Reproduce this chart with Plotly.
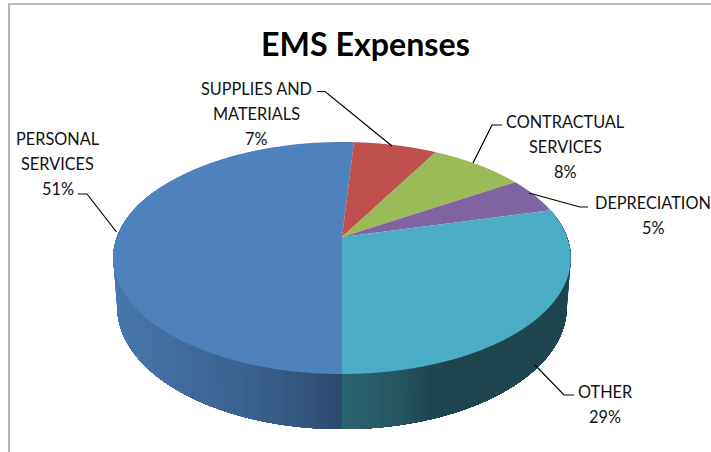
import numpy as np
import plotly.graph_objects as go

# ---- data ----
categories = ["PERSONAL<br>SERVICES", "SUPPLIES AND<br>MATERIALS", "CONTRACTUAL<br>SERVICES", "DEPRECIATION", "OTHER"]
values = [51, 7, 8, 5, 29]
colors = ["#4f81bd", "#c0504d", "#9bbb59", "#8064a2", "#4bacc6"]
title = "EMS Expenses"

# ---- projection of the tilted pie onto the page ----
K = 0.181
TOP = dict(cx=342, cy=237, a=225, b=112.2)
BOT = dict(cx=342, cy=285, a=221, b=118)


def project(theta_deg, r=1.0, plane=TOP):
    t = np.radians(theta_deg)
    u, v = r * np.sin(t), r * np.cos(t)
    den = 1 + K * v
    return plane["cx"] + plane["a"] * u / den, plane["cy"] - plane["b"] * v / den


total = sum(values)
sweeps = [v / total * 360 for v in values]
starts, ends = [], []
a = 180.0  # the first slice starts at the front of the pie and runs clockwise
for s in sweeps:
    starts.append(a)
    a += s
    ends.append(a)

fig = go.Figure()


def poly(xs, ys, color):
    fig.add_trace(go.Scatter(x=xs, y=ys, mode="none", fill="toself", fillcolor=color,
                             hoverinfo="skip", showlegend=False))


def mix(stops, x):
    xp = [s[0] for s in stops]
    return "rgb(%d,%d,%d)" % tuple(np.interp(x, xp, [s[1][i] for s in stops]) for i in range(3))


# gradient stops of the side wall, by page x
blue_side = [(112, (0x4a, 0x78, 0xae)), (180, (0x41, 0x6b, 0x9d)), (250, (0x3a, 0x60, 0x8d)),
             (300, (0x34, 0x55, 0x7f)), (343, (0x2c, 0x49, 0x6e))]
teal_side = [(343, (0x2b, 0x66, 0x72)), (400, (0x27, 0x56, 0x62)), (435, (0x1f, 0x46, 0x50)),
             (570, (0x1f, 0x46, 0x50))]

# side walls for the slices facing the viewer; each strip is painted over the previous one
blue_lo, blue_hi = starts[0], min(ends[0], 300)
edges = np.linspace(blue_hi, blue_lo, 90)
for t0 in edges[:-1]:
    arc = np.linspace(t0, blue_lo, 80)
    xt, yt = project(arc, plane=TOP)
    xb, yb = project(arc, plane=BOT)
    xs = np.concatenate([xt, xb[::-1], xt[:1]])
    ys = np.concatenate([yt, yb[::-1], yt[:1]])
    poly(xs, ys, mix(blue_side, float(xt[0])))

teal_lo, teal_hi = starts[4] - 360, ends[4] - 360
edges = np.linspace(teal_lo, teal_hi, 90)
for t0 in edges[:-1]:
    arc = np.linspace(t0, teal_hi, 80)
    xt, yt = project(arc, plane=TOP)
    xb, yb = project(arc, plane=BOT)
    xs = np.concatenate([xt, xb[::-1], xt[:1]])
    ys = np.concatenate([yt, yb[::-1], yt[:1]])
    poly(xs, ys, mix(teal_side, float(xt[0])))

# top face
for s, e, c in zip(starts, ends, colors):
    arc = np.linspace(s, e, 200)
    xr, yr = project(arc)
    cx, cy = project(0.0, r=0.0)
    poly(np.concatenate([[cx], xr, [cx]]), np.concatenate([[cy], yr, [cy]]), c)

# leader lines
leaders = [
    ([78, 87, 116.5], [194, 194, 232]),
    ([317, 325, 392], [91.5, 91.5, 146]),
    ([502, 492, 473], [125, 125, 163]),
    ([588, 580, 529], [207, 207, 193]),
    ([574, 564, 535], [395, 395, 365]),
]
for lx, ly in leaders:
    fig.add_trace(go.Scatter(x=lx, y=ly, mode="lines", line=dict(color="#000000", width=1.2),
                             hoverinfo="skip", showlegend=False))

# frame (only top and left are visible)
fig.add_trace(go.Scatter(x=[9, 9, 711], y=[452, 4, 4], mode="lines", line=dict(color="#a3a3a3", width=1.6),
                         hoverinfo="skip", showlegend=False))

# labels: one annotation per line so the line spacing follows the reference
label_pos = [(57.5, 138), (256, 88), (565, 121), (653, 202), (605, 391)]
LINE_GAP = 25
font = dict(family="Lato, Carlito, sans-serif", size=16.3, color="#111111")
annotations = []
for name, val, (lx, ly) in zip(categories, values, label_pos):
    for i, line in enumerate(name.split("<br>") + [f"{val}%"]):
        annotations.append(dict(x=lx, y=ly + i * LINE_GAP, xref="x", yref="y", text=line, showarrow=False,
                                font=font, xanchor="center", yanchor="middle"))
annotations.append(dict(x=365, y=43.5, xref="x", yref="y", text=f"<b>{title}</b>", showarrow=False,
                        font=dict(family="Lato, Carlito, sans-serif", size=32.2, color="#000000"),
                        xanchor="center", yanchor="middle"))

fig.update_layout(
    width=711, height=452, margin=dict(l=0, r=0, t=0, b=0),
    paper_bgcolor="white", plot_bgcolor="white", showlegend=False,
    xaxis=dict(range=[0, 711], visible=False, fixedrange=True),
    yaxis=dict(range=[452, 0], visible=False, fixedrange=True),
    annotations=annotations,
)
fig.write_html("out.html", config=dict(displayModeBar=False),
               post_script="document.body.style.margin='0';document.documentElement.style.overflow='hidden';")
